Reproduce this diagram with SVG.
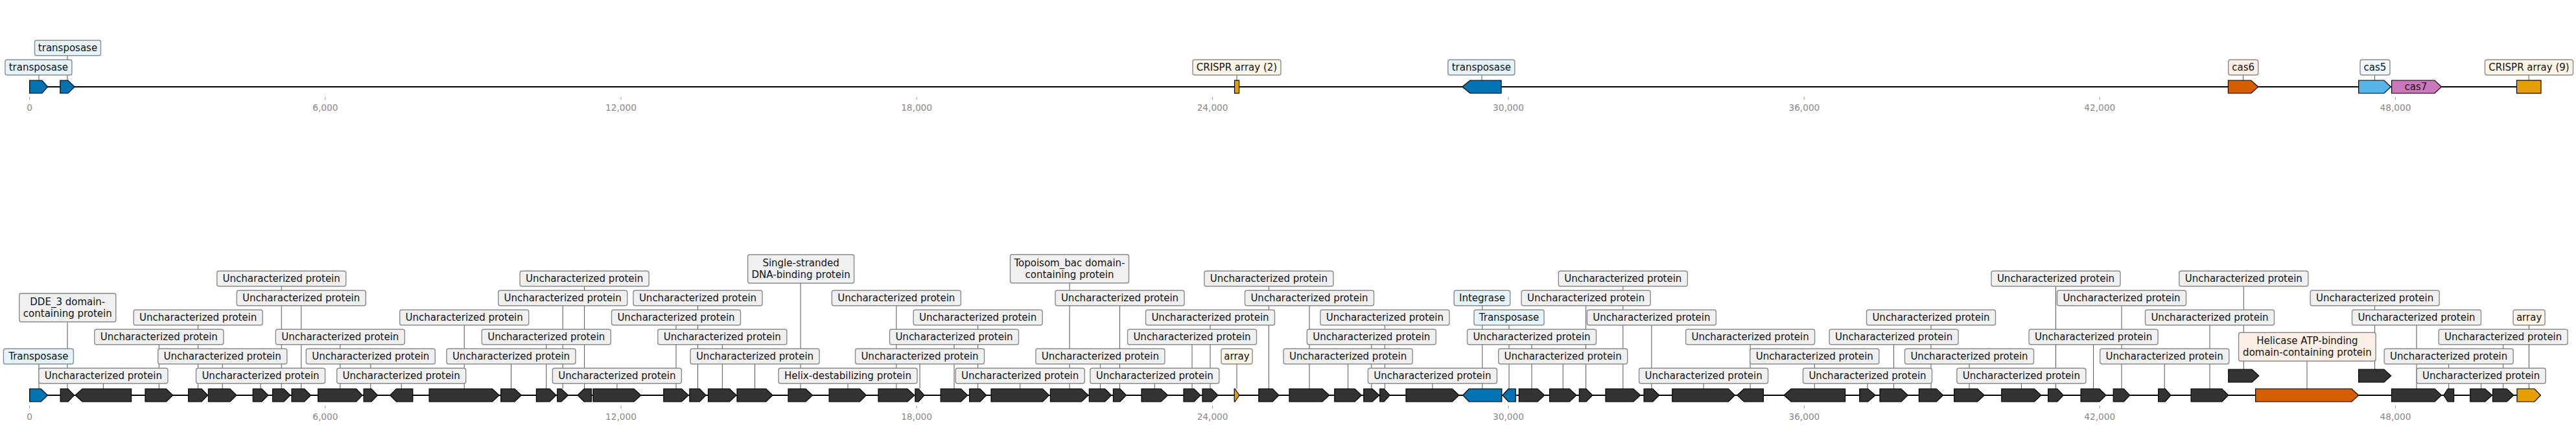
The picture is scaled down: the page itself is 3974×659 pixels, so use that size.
<svg xmlns="http://www.w3.org/2000/svg" width="3974" height="659" viewBox="0 0 3974 659">
<style>
.trk{stroke:#000;stroke-width:2.2;fill:none}
.gn{stroke:#000;stroke-width:1.2;stroke-linejoin:miter}
.dk{fill:#333}
.bl{fill:#0173b2}
.vm{fill:#d55e00}
.sk{fill:#56b4e9}
.pk{fill:#cc78bc}
.cr{fill:#e69f00}
.bx{stroke:#8a8a8a;stroke-width:1.4;rx:3px}
.lg{fill:#f0f0f0}
.lb{fill:#e5f3fb}
.lc{fill:#fdf6e6}
.lo{fill:#fdefe5}
.ls{fill:#eef7fd}
text{font-family:'DejaVu Sans','Liberation Sans',sans-serif}
.t{font-size:15px;text-anchor:middle;fill:#111}
.ax{font-size:13.7px;text-anchor:middle;fill:#888}
.tk{stroke:#999;stroke-width:1}
#connectors line{stroke:#555;stroke-width:1}
</style>
<rect width="3974" height="659" fill="#fff"/>
<g id="axes">
<line class="trk" x1="45.6" y1="134" x2="3920" y2="134"/>
<line class="trk" x1="45.7" y1="610" x2="3919.4" y2="610"/>
<g class="tk">
<line x1="45.6" y1="149.5" x2="45.6" y2="154"/><line x1="501.8" y1="149.5" x2="501.8" y2="154"/><line x1="958" y1="149.5" x2="958" y2="154"/><line x1="1414.1" y1="149.5" x2="1414.1" y2="154"/><line x1="1870.6" y1="149.5" x2="1870.6" y2="154"/><line x1="2327" y1="149.5" x2="2327" y2="154"/><line x1="2783.4" y1="149.5" x2="2783.4" y2="154"/><line x1="3239.3" y1="149.5" x2="3239.3" y2="154"/><line x1="3695.5" y1="149.5" x2="3695.5" y2="154"/>
<line x1="45.6" y1="626" x2="45.6" y2="630.5"/><line x1="501.8" y1="626" x2="501.8" y2="630.5"/><line x1="958" y1="626" x2="958" y2="630.5"/><line x1="1414.1" y1="626" x2="1414.1" y2="630.5"/><line x1="1870.6" y1="626" x2="1870.6" y2="630.5"/><line x1="2327" y1="626" x2="2327" y2="630.5"/><line x1="2783.4" y1="626" x2="2783.4" y2="630.5"/><line x1="3239.3" y1="626" x2="3239.3" y2="630.5"/><line x1="3695.5" y1="626" x2="3695.5" y2="630.5"/>
</g>
<g class="ax">
<text x="45.6" y="170.7">0</text><text x="501.8" y="170.7">6,000</text><text x="958" y="170.7">12,000</text><text x="1414.1" y="170.7">18,000</text><text x="1870.6" y="170.7">24,000</text><text x="2327" y="170.7">30,000</text><text x="2783.4" y="170.7">36,000</text><text x="3239.3" y="170.7">42,000</text><text x="3695.5" y="170.7">48,000</text>
<text x="45.6" y="647.5">0</text><text x="501.8" y="647.5">6,000</text><text x="958" y="647.5">12,000</text><text x="1414.1" y="647.5">18,000</text><text x="1870.6" y="647.5">24,000</text><text x="2327" y="647.5">30,000</text><text x="2783.4" y="647.5">36,000</text><text x="3239.3" y="647.5">42,000</text><text x="3695.5" y="647.5">48,000</text>
</g>
</g>
<g id="connectors">
<line x1="60" y1="115.8" x2="60" y2="124"/>
<line x1="104" y1="85.8" x2="104" y2="124"/>
<line x1="1908" y1="115.8" x2="1908" y2="124"/>
<line x1="2286" y1="115.8" x2="2286" y2="124"/>
<line x1="3460.6" y1="115.8" x2="3460.6" y2="124"/>
<line x1="3663.5" y1="115.8" x2="3663.5" y2="124"/>
<line x1="3901.2" y1="115.8" x2="3901.2" y2="124"/>
<line x1="60" y1="561.8" x2="60" y2="600"/>
<line x1="104" y1="496.7" x2="104" y2="600"/>
<line x1="159.4" y1="591.8" x2="159.4" y2="600"/>
<line x1="245.3" y1="531.8" x2="245.3" y2="600"/>
<line x1="305.6" y1="501.8" x2="305.6" y2="600"/>
<line x1="343.2" y1="561.8" x2="343.2" y2="600"/>
<line x1="402" y1="591.8" x2="402" y2="600"/>
<line x1="434.2" y1="441.8" x2="434.2" y2="600"/>
<line x1="464.7" y1="471.8" x2="464.7" y2="600"/>
<line x1="524.8" y1="531.8" x2="524.8" y2="600"/>
<line x1="571.8" y1="561.8" x2="571.8" y2="600"/>
<line x1="619.2" y1="591.8" x2="619.2" y2="600"/>
<line x1="716.2" y1="501.8" x2="716.2" y2="600"/>
<line x1="788.5" y1="561.8" x2="788.5" y2="600"/>
<line x1="842.8" y1="531.8" x2="842.8" y2="600"/>
<line x1="868.2" y1="471.8" x2="868.2" y2="600"/>
<line x1="901.6" y1="441.8" x2="901.6" y2="600"/>
<line x1="951.9" y1="591.8" x2="951.9" y2="600"/>
<line x1="1043" y1="501.8" x2="1043" y2="600"/>
<line x1="1076.5" y1="471.8" x2="1076.5" y2="600"/>
<line x1="1114.3" y1="531.8" x2="1114.3" y2="600"/>
<line x1="1164.5" y1="561.8" x2="1164.5" y2="600"/>
<line x1="1235" y1="437" x2="1235" y2="600"/>
<line x1="1308" y1="591.8" x2="1308" y2="600"/>
<line x1="1382.8" y1="471.8" x2="1382.8" y2="600"/>
<line x1="1419" y1="561.8" x2="1419" y2="600"/>
<line x1="1472" y1="531.8" x2="1472" y2="600"/>
<line x1="1508.6" y1="501.8" x2="1508.6" y2="600"/>
<line x1="1573.7" y1="591.8" x2="1573.7" y2="600"/>
<line x1="1650" y1="436.7" x2="1650" y2="600"/>
<line x1="1697.4" y1="561.8" x2="1697.4" y2="600"/>
<line x1="1727.5" y1="471.8" x2="1727.5" y2="600"/>
<line x1="1781.3" y1="591.8" x2="1781.3" y2="600"/>
<line x1="1839" y1="531.8" x2="1839" y2="600"/>
<line x1="1867" y1="501.8" x2="1867" y2="600"/>
<line x1="1908" y1="561.8" x2="1908" y2="600"/>
<line x1="1957.4" y1="441.8" x2="1957.4" y2="600"/>
<line x1="2020" y1="471.8" x2="2020" y2="600"/>
<line x1="2079.6" y1="561.8" x2="2079.6" y2="600"/>
<line x1="2115.8" y1="531.8" x2="2115.8" y2="600"/>
<line x1="2136.4" y1="501.8" x2="2136.4" y2="600"/>
<line x1="2209.9" y1="591.8" x2="2209.9" y2="600"/>
<line x1="2286.8" y1="471.8" x2="2286.8" y2="600"/>
<line x1="2328" y1="501.8" x2="2328" y2="600"/>
<line x1="2363" y1="531.8" x2="2363" y2="600"/>
<line x1="2411.2" y1="561.8" x2="2411.2" y2="600"/>
<line x1="2446.6" y1="471.8" x2="2446.6" y2="600"/>
<line x1="2503.8" y1="441.8" x2="2503.8" y2="600"/>
<line x1="2547.9" y1="501.8" x2="2547.9" y2="600"/>
<line x1="2628.1" y1="591.8" x2="2628.1" y2="600"/>
<line x1="2700.1" y1="531.8" x2="2700.1" y2="600"/>
<line x1="2799.3" y1="561.8" x2="2799.3" y2="600"/>
<line x1="2881" y1="591.8" x2="2881" y2="600"/>
<line x1="2921.6" y1="531.8" x2="2921.6" y2="600"/>
<line x1="2979" y1="501.8" x2="2979" y2="600"/>
<line x1="3038" y1="561.8" x2="3038" y2="600"/>
<line x1="3118.4" y1="591.8" x2="3118.4" y2="600"/>
<line x1="3171.5" y1="441.8" x2="3171.5" y2="600"/>
<line x1="3229.6" y1="531.8" x2="3229.6" y2="600"/>
<line x1="3273" y1="471.8" x2="3273" y2="600"/>
<line x1="3339.2" y1="561.8" x2="3339.2" y2="600"/>
<line x1="3409" y1="501.8" x2="3409" y2="600"/>
<line x1="3461.3" y1="441.8" x2="3461.3" y2="570"/>
<line x1="3559" y1="557.2" x2="3559" y2="600"/>
<line x1="3663.6" y1="471.8" x2="3663.6" y2="570"/>
<line x1="3728" y1="501.8" x2="3728" y2="600"/>
<line x1="3777.7" y1="561.8" x2="3777.7" y2="600"/>
<line x1="3827.7" y1="591.8" x2="3827.7" y2="600"/>
<line x1="3861.7" y1="531.8" x2="3861.7" y2="600"/>
<line x1="3901.5" y1="501.8" x2="3901.5" y2="600"/>
</g>
<g id="top-track">
<g id="t1"><polygon class="gn bl" points="45.6,124 64.7,124 73.7,134 64.7,144 45.6,144"/><rect class="bx lb" x="7.9" y="92.2" width="103" height="23.6"/><text class="t" x="59.4" y="109.4">transposase</text></g>
<g id="t2"><polygon class="gn bl" points="92.9,124 104.9,124 115.2,134 104.9,144 92.9,144"/><rect class="bx lb" x="53.5" y="62.2" width="102" height="23.6"/><text class="t" x="104.5" y="79.4">transposase</text></g>
<g id="t3"><rect class="gn cr" x="1904.5" y="124" width="7.1" height="20"/><rect class="bx lc" x="1840" y="92.2" width="136" height="23.6"/><text class="t" x="1908" y="109.4">CRISPR array (2)</text></g>
<g id="t4"><polygon class="gn bl" points="2255.8,134 2267.9,124 2316,124 2316,144 2267.9,144"/><rect class="bx lb" x="2233.8" y="92.2" width="103" height="23.6"/><text class="t" x="2285.3" y="109.4">transposase</text></g>
<g id="t5"><polygon class="gn vm" points="3437.4,124 3472.7,124 3483.8,134 3472.7,144 3437.4,144"/><rect class="bx lo" x="3437.7" y="92.2" width="46" height="23.6"/><text class="t" x="3460.7" y="109.4">cas6</text></g>
<g id="t6"><polygon class="gn sk" points="3638.7,124 3678,124 3688.3,134 3678,144 3638.7,144"/><rect class="bx ls" x="3641" y="92.2" width="46" height="23.6"/><text class="t" x="3664" y="109.4">cas5</text></g>
<g id="t7"><polygon class="gn pk" points="3689.6,124 3756,124 3766.4,134 3756,144 3689.6,144"/><text class="t" x="3727" y="139.4">cas7</text></g>
<g id="t8"><rect class="gn cr" x="3882.5" y="124" width="37.5" height="20"/><rect class="bx lc" x="3833.5" y="92.2" width="136" height="23.6"/><text class="t" x="3901.5" y="109.4">CRISPR array (9)</text></g>
</g>
<g id="bottom-track">
<g id="b1"><polygon class="gn bl" points="45.7,600 63.2,600 73.5,610 63.2,620 45.7,620"/><rect class="bx lb" x="5.4" y="538.2" width="108" height="23.6"/><text class="t" x="59.4" y="555.4">Transposase</text></g>
<g id="b2"><polygon class="gn dk" points="93.2,600 105,600 114.5,610 105,620 93.2,620"/><rect class="bx lg" x="29.8" y="452.7" width="149" height="44"/><text class="t" x="104.3" y="470.7">DDE_3 domain-</text><text class="t" x="104.3" y="488.7">containing protein</text></g>
<g id="b3"><polygon class="gn dk" points="116.2,610 127,600 202.6,600 202.6,620 127,620"/><rect class="bx lg" x="59.9" y="568.2" width="199" height="23.6"/><text class="t" x="159.4" y="585.4">Uncharacterized protein</text></g>
<g id="b4"><polygon class="gn dk" points="224,600 256.4,600 266.7,610 256.4,620 224,620"/><rect class="bx lg" x="145.8" y="508.2" width="199" height="23.6"/><text class="t" x="245.3" y="525.4">Uncharacterized protein</text></g>
<g id="b5"><polygon class="gn dk" points="290.6,600 311,600 320.5,610 311,620 290.6,620"/><rect class="bx lg" x="206.1" y="478.2" width="199" height="23.6"/><text class="t" x="305.6" y="495.4">Uncharacterized protein</text></g>
<g id="b6"><polygon class="gn dk" points="321.4,600 355,600 365,610 355,620 321.4,620"/><rect class="bx lg" x="243.7" y="538.2" width="199" height="23.6"/><text class="t" x="343.2" y="555.4">Uncharacterized protein</text></g>
<g id="b7"><polygon class="gn dk" points="390.2,600 404,600 413.7,610 404,620 390.2,620"/><rect class="bx lg" x="302.5" y="568.2" width="199" height="23.6"/><text class="t" x="402" y="585.4">Uncharacterized protein</text></g>
<g id="b8"><polygon class="gn dk" points="420.5,600 438,600 447.9,610 438,620 420.5,620"/><rect class="bx lg" x="334.7" y="418.2" width="199" height="23.6"/><text class="t" x="434.2" y="435.4">Uncharacterized protein</text></g>
<g id="b9"><polygon class="gn dk" points="450,600 469.5,600 479.5,610 469.5,620 450,620"/><rect class="bx lg" x="365.2" y="448.2" width="199" height="23.6"/><text class="t" x="464.7" y="465.4">Uncharacterized protein</text></g>
<g id="b10"><polygon class="gn dk" points="490.6,600 549.6,600 559,610 549.6,620 490.6,620"/><rect class="bx lg" x="425.3" y="508.2" width="199" height="23.6"/><text class="t" x="524.8" y="525.4">Uncharacterized protein</text></g>
<g id="b11"><polygon class="gn dk" points="561.1,600 573,600 582.5,610 573,620 561.1,620"/><rect class="bx lg" x="472.3" y="538.2" width="199" height="23.6"/><text class="t" x="571.8" y="555.4">Uncharacterized protein</text></g>
<g id="b12"><polygon class="gn dk" points="601.7,610 611.5,600 636.8,600 636.8,620 611.5,620"/><rect class="bx lg" x="519.7" y="568.2" width="199" height="23.6"/><text class="t" x="619.2" y="585.4">Uncharacterized protein</text></g>
<g id="b13"><polygon class="gn dk" points="662.1,600 759.5,600 770.2,610 759.5,620 662.1,620"/><rect class="bx lg" x="616.7" y="478.2" width="199" height="23.6"/><text class="t" x="716.2" y="495.4">Uncharacterized protein</text></g>
<g id="b14"><polygon class="gn dk" points="772.7,600 794,600 804.3,610 794,620 772.7,620"/><rect class="bx lg" x="689" y="538.2" width="199" height="23.6"/><text class="t" x="788.5" y="555.4">Uncharacterized protein</text></g>
<g id="b15"><polygon class="gn dk" points="827.4,600 848,600 858.1,610 848,620 827.4,620"/><rect class="bx lg" x="743.3" y="508.2" width="199" height="23.6"/><text class="t" x="842.8" y="525.4">Uncharacterized protein</text></g>
<g id="b16"><polygon class="gn dk" points="859.8,600 866,600 876.5,610 866,620 859.8,620"/><rect class="bx lg" x="768.7" y="448.2" width="199" height="23.6"/><text class="t" x="868.2" y="465.4">Uncharacterized protein</text></g>
<g id="b17"><polygon class="gn dk" points="891,610 901,600 912.3,600 912.3,620 901,620"/><rect class="bx lg" x="802.1" y="418.2" width="199" height="23.6"/><text class="t" x="901.6" y="435.4">Uncharacterized protein</text></g>
<g id="b18"><polygon class="gn dk" points="914.9,600 978,600 988.8,610 978,620 914.9,620"/><rect class="bx lg" x="852.4" y="568.2" width="199" height="23.6"/><text class="t" x="951.9" y="585.4">Uncharacterized protein</text></g>
<g id="b19"><polygon class="gn dk" points="1023.8,600 1051.5,600 1062.2,610 1051.5,620 1023.8,620"/><rect class="bx lg" x="943.5" y="478.2" width="199" height="23.6"/><text class="t" x="1043" y="495.4">Uncharacterized protein</text></g>
<g id="b20"><polygon class="gn dk" points="1063.9,600 1079.3,600 1089.1,610 1079.3,620 1063.9,620"/><rect class="bx lg" x="977" y="448.2" width="199" height="23.6"/><text class="t" x="1076.5" y="465.4">Uncharacterized protein</text></g>
<g id="b21"><polygon class="gn dk" points="1092.5,600 1125.5,600 1136.1,610 1125.5,620 1092.5,620"/><rect class="bx lg" x="1014.8" y="508.2" width="199" height="23.6"/><text class="t" x="1114.3" y="525.4">Uncharacterized protein</text></g>
<g id="b22"><polygon class="gn dk" points="1137,600 1181.8,600 1192,610 1181.8,620 1137,620"/><rect class="bx lg" x="1065" y="538.2" width="199" height="23.6"/><text class="t" x="1164.5" y="555.4">Uncharacterized protein</text></g>
<g id="b23"><polygon class="gn dk" points="1216,600 1243,600 1253.5,610 1243,620 1216,620"/><rect class="bx lg" x="1153.6" y="393" width="164" height="44"/><text class="t" x="1235.6" y="411">Single-stranded</text><text class="t" x="1235.6" y="429">DNA-binding protein</text></g>
<g id="b24"><polygon class="gn dk" points="1279.1,600 1326.4,600 1336.2,610 1326.4,620 1279.1,620"/><rect class="bx lg" x="1201" y="568.2" width="214" height="23.6"/><text class="t" x="1308" y="585.4">Helix-destabilizing protein</text></g>
<g id="b25"><polygon class="gn dk" points="1355,600 1400,600 1410.6,610 1400,620 1355,620"/><rect class="bx lg" x="1283.3" y="448.2" width="199" height="23.6"/><text class="t" x="1382.8" y="465.4">Uncharacterized protein</text></g>
<g id="b26"><polygon class="gn dk" points="1411.9,600 1417,600 1426,610 1417,620 1411.9,620"/><rect class="bx lg" x="1319.5" y="538.2" width="199" height="23.6"/><text class="t" x="1419" y="555.4">Uncharacterized protein</text></g>
<g id="b27"><polygon class="gn dk" points="1451.2,600 1482.4,600 1492.6,610 1482.4,620 1451.2,620"/><rect class="bx lg" x="1372.5" y="508.2" width="199" height="23.6"/><text class="t" x="1472" y="525.4">Uncharacterized protein</text></g>
<g id="b28"><polygon class="gn dk" points="1495.6,600 1512,600 1521.7,610 1512,620 1495.6,620"/><rect class="bx lg" x="1409.1" y="478.2" width="199" height="23.6"/><text class="t" x="1508.6" y="495.4">Uncharacterized protein</text></g>
<g id="b29"><polygon class="gn dk" points="1529,600 1608.5,600 1618.3,610 1608.5,620 1529,620"/><rect class="bx lg" x="1474.2" y="568.2" width="199" height="23.6"/><text class="t" x="1573.7" y="585.4">Uncharacterized protein</text></g>
<g id="b30"><polygon class="gn dk" points="1620.4,600 1668.3,600 1679,610 1668.3,620 1620.4,620"/><rect class="bx lg" x="1558.5" y="392.7" width="183" height="44"/><text class="t" x="1650" y="410.7">Topoisom_bac domain-</text><text class="t" x="1650" y="428.7">containing protein</text></g>
<g id="b31"><polygon class="gn dk" points="1680.3,600 1704.6,600 1714.4,610 1704.6,620 1680.3,620"/><rect class="bx lg" x="1597.9" y="538.2" width="199" height="23.6"/><text class="t" x="1697.4" y="555.4">Uncharacterized protein</text></g>
<g id="b32"><polygon class="gn dk" points="1717.4,600 1728,600 1737.5,610 1728,620 1717.4,620"/><rect class="bx lg" x="1628" y="448.2" width="199" height="23.6"/><text class="t" x="1727.5" y="465.4">Uncharacterized protein</text></g>
<g id="b33"><polygon class="gn dk" points="1761,600 1791,600 1801.6,610 1791,620 1761,620"/><rect class="bx lg" x="1681.8" y="568.2" width="199" height="23.6"/><text class="t" x="1781.3" y="585.4">Uncharacterized protein</text></g>
<g id="b34"><polygon class="gn dk" points="1826,600 1842.2,600 1852,610 1842.2,620 1826,620"/><rect class="bx lg" x="1739.5" y="508.2" width="199" height="23.6"/><text class="t" x="1839" y="525.4">Uncharacterized protein</text></g>
<g id="b35"><polygon class="gn dk" points="1855,600 1869.1,600 1879,610 1869.1,620 1855,620"/><rect class="bx lg" x="1767.5" y="478.2" width="199" height="23.6"/><text class="t" x="1867" y="495.4">Uncharacterized protein</text></g>
<g id="b36"><polygon class="gn cr" points="1904.2,600 1905.2,600 1911.9,610 1905.2,620 1904.2,620"/><rect class="bx lc" x="1884" y="538.2" width="48" height="23.6"/><text class="t" x="1908" y="555.4">array</text></g>
<g id="b37"><polygon class="gn dk" points="1941.8,600 1963.2,600 1973,610 1963.2,620 1941.8,620"/><rect class="bx lg" x="1857.9" y="418.2" width="199" height="23.6"/><text class="t" x="1957.4" y="435.4">Uncharacterized protein</text></g>
<g id="b38"><polygon class="gn dk" points="1989,600 2040,600 2050.7,610 2040,620 1989,620"/><rect class="bx lg" x="1920.5" y="448.2" width="199" height="23.6"/><text class="t" x="2020" y="465.4">Uncharacterized protein</text></g>
<g id="b39"><polygon class="gn dk" points="2058.8,600 2090.1,600 2100.4,610 2090.1,620 2058.8,620"/><rect class="bx lg" x="1980.1" y="538.2" width="199" height="23.6"/><text class="t" x="2079.6" y="555.4">Uncharacterized protein</text></g>
<g id="b40"><polygon class="gn dk" points="2103.8,600 2117.1,600 2127.8,610 2117.1,620 2103.8,620"/><rect class="bx lg" x="2016.3" y="508.2" width="199" height="23.6"/><text class="t" x="2115.8" y="525.4">Uncharacterized protein</text></g>
<g id="b41"><polygon class="gn dk" points="2128.7,600 2135.1,600 2144.1,610 2135.1,620 2128.7,620"/><rect class="bx lg" x="2036.9" y="478.2" width="199" height="23.6"/><text class="t" x="2136.4" y="495.4">Uncharacterized protein</text></g>
<g id="b42"><polygon class="gn dk" points="2169,600 2240.5,600 2250.8,610 2240.5,620 2169,620"/><rect class="bx lg" x="2110.4" y="568.2" width="199" height="23.6"/><text class="t" x="2209.9" y="585.4">Uncharacterized protein</text></g>
<g id="b43"><polygon class="gn bl" points="2256.8,610 2266.2,600 2316.8,600 2316.8,620 2266.2,620"/><rect class="bx lb" x="2243.2" y="448.2" width="86.5" height="23.6"/><text class="t" x="2286.5" y="465.4">Integrase</text></g>
<g id="b44"><polygon class="gn bl" points="2318,610 2327,600 2338.2,600 2338.2,620 2327,620"/><rect class="bx lb" x="2274" y="478.2" width="108" height="23.6"/><text class="t" x="2328" y="495.4">Transposase</text></g>
<g id="b45"><polygon class="gn dk" points="2343.3,600 2372,600 2382.7,610 2372,620 2343.3,620"/><rect class="bx lg" x="2263.5" y="508.2" width="199" height="23.6"/><text class="t" x="2363" y="525.4">Uncharacterized protein</text></g>
<g id="b46"><polygon class="gn dk" points="2390.5,600 2421.3,600 2432,610 2421.3,620 2390.5,620"/><rect class="bx lg" x="2311.7" y="538.2" width="199" height="23.6"/><text class="t" x="2411.2" y="555.4">Uncharacterized protein</text></g>
<g id="b47"><polygon class="gn dk" points="2436.3,600 2447,600 2456.9,610 2447,620 2436.3,620"/><rect class="bx lg" x="2347.1" y="448.2" width="199" height="23.6"/><text class="t" x="2446.6" y="465.4">Uncharacterized protein</text></g>
<g id="b48"><polygon class="gn dk" points="2477,600 2519.9,600 2530.6,610 2519.9,620 2477,620"/><rect class="bx lg" x="2404.3" y="418.2" width="199" height="23.6"/><text class="t" x="2503.8" y="435.4">Uncharacterized protein</text></g>
<g id="b49"><polygon class="gn dk" points="2536.1,600 2549.8,600 2559.7,610 2549.8,620 2536.1,620"/><rect class="bx lg" x="2448.4" y="478.2" width="199" height="23.6"/><text class="t" x="2547.9" y="495.4">Uncharacterized protein</text></g>
<g id="b50"><polygon class="gn dk" points="2579.8,600 2666.5,600 2676.4,610 2666.5,620 2579.8,620"/><rect class="bx lg" x="2528.6" y="568.2" width="199" height="23.6"/><text class="t" x="2628.1" y="585.4">Uncharacterized protein</text></g>
<g id="b51"><polygon class="gn dk" points="2679.8,610 2690.5,600 2720.4,600 2720.4,620 2690.5,620"/><rect class="bx lg" x="2600.6" y="508.2" width="199" height="23.6"/><text class="t" x="2700.1" y="525.4">Uncharacterized protein</text></g>
<g id="b52"><polygon class="gn dk" points="2752,610 2763.2,600 2846.6,600 2846.6,620 2763.2,620"/><rect class="bx lg" x="2699.8" y="538.2" width="199" height="23.6"/><text class="t" x="2799.3" y="555.4">Uncharacterized protein</text></g>
<g id="b53"><polygon class="gn dk" points="2868.8,600 2881.7,600 2893.2,610 2881.7,620 2868.8,620"/><rect class="bx lg" x="2781.5" y="568.2" width="199" height="23.6"/><text class="t" x="2881" y="585.4">Uncharacterized protein</text></g>
<g id="b54"><polygon class="gn dk" points="2900,600 2933,600 2943.3,610 2933,620 2900,620"/><rect class="bx lg" x="2822.1" y="508.2" width="199" height="23.6"/><text class="t" x="2921.6" y="525.4">Uncharacterized protein</text></g>
<g id="b55"><polygon class="gn dk" points="2960.4,600 2987.3,600 2997.6,610 2987.3,620 2960.4,620"/><rect class="bx lg" x="2879.5" y="478.2" width="199" height="23.6"/><text class="t" x="2979" y="495.4">Uncharacterized protein</text></g>
<g id="b56"><polygon class="gn dk" points="3014.7,600 3050.6,600 3061.3,610 3050.6,620 3014.7,620"/><rect class="bx lg" x="2938.5" y="538.2" width="199" height="23.6"/><text class="t" x="3038" y="555.4">Uncharacterized protein</text></g>
<g id="b57"><polygon class="gn dk" points="3087.8,600 3138.3,600 3149,610 3138.3,620 3087.8,620"/><rect class="bx lg" x="3018.9" y="568.2" width="199" height="23.6"/><text class="t" x="3118.4" y="585.4">Uncharacterized protein</text></g>
<g id="b58"><polygon class="gn dk" points="3159.7,600 3173.8,600 3183.2,610 3173.8,620 3159.7,620"/><rect class="bx lg" x="3072" y="418.2" width="199" height="23.6"/><text class="t" x="3171.5" y="435.4">Uncharacterized protein</text></g>
<g id="b59"><polygon class="gn dk" points="3210.1,600 3238.8,600 3249.1,610 3238.8,620 3210.1,620"/><rect class="bx lg" x="3130.1" y="508.2" width="199" height="23.6"/><text class="t" x="3229.6" y="525.4">Uncharacterized protein</text></g>
<g id="b60"><polygon class="gn dk" points="3260.2,600 3276.4,600 3285.8,610 3276.4,620 3260.2,620"/><rect class="bx lg" x="3173.5" y="448.2" width="199" height="23.6"/><text class="t" x="3273" y="465.4">Uncharacterized protein</text></g>
<g id="b61"><polygon class="gn dk" points="3329.6,600 3340.3,600 3348.9,610 3340.3,620 3329.6,620"/><rect class="bx lg" x="3239.7" y="538.2" width="199" height="23.6"/><text class="t" x="3339.2" y="555.4">Uncharacterized protein</text></g>
<g id="b62"><polygon class="gn dk" points="3380.1,600 3427.9,600 3437.8,610 3427.9,620 3380.1,620"/><rect class="bx lg" x="3309.5" y="478.2" width="199" height="23.6"/><text class="t" x="3409" y="495.4">Uncharacterized protein</text></g>
<g id="b63"><polygon class="gn dk" points="3437.8,570 3474.1,570 3484.8,580 3474.1,590 3437.8,590"/><rect class="bx lg" x="3361.8" y="418.2" width="199" height="23.6"/><text class="t" x="3461.3" y="435.4">Uncharacterized protein</text></g>
<g id="b64"><polygon class="gn vm" points="3479.6,600 3627.9,600 3638.6,610 3627.9,620 3479.6,620"/><rect class="bx lo" x="3453.6" y="513.2" width="211.5" height="44"/><text class="t" x="3559.4" y="531.2">Helicase ATP-binding</text><text class="t" x="3559.4" y="549.2">domain-containing protein</text></g>
<g id="b65"><polygon class="gn dk" points="3638.6,570 3677.9,570 3688.6,580 3677.9,590 3638.6,590"/><rect class="bx lg" x="3564.1" y="448.2" width="199" height="23.6"/><text class="t" x="3663.6" y="465.4">Uncharacterized protein</text></g>
<g id="b66"><polygon class="gn dk" points="3689.5,600 3756.1,600 3766.4,610 3756.1,620 3689.5,620"/><rect class="bx lg" x="3628.5" y="478.2" width="199" height="23.6"/><text class="t" x="3728" y="495.4">Uncharacterized protein</text></g>
<g id="b67"><polygon class="gn dk" points="3769.8,610 3776.2,600 3785.6,600 3785.6,620 3776.2,620"/><rect class="bx lg" x="3678.2" y="538.2" width="199" height="23.6"/><text class="t" x="3777.7" y="555.4">Uncharacterized protein</text></g>
<g id="b68"><polygon class="gn dk" points="3810.8,600 3833.9,600 3844.6,610 3833.9,620 3810.8,620"/><rect class="bx lg" x="3728.2" y="568.2" width="199" height="23.6"/><text class="t" x="3827.7" y="585.4">Uncharacterized protein</text></g>
<g id="b69"><polygon class="gn dk" points="3845.5,600 3867.2,600 3877.9,610 3867.2,620 3845.5,620"/><rect class="bx lg" x="3762.2" y="508.2" width="199" height="23.6"/><text class="t" x="3861.7" y="525.4">Uncharacterized protein</text></g>
<g id="b70"><polygon class="gn cr" points="3883,600 3910,600 3919.4,610 3910,620 3883,620"/><rect class="bx lc" x="3877.1" y="478.2" width="49" height="23.6"/><text class="t" x="3901.6" y="495.4">array</text></g>
</g>
</svg>
